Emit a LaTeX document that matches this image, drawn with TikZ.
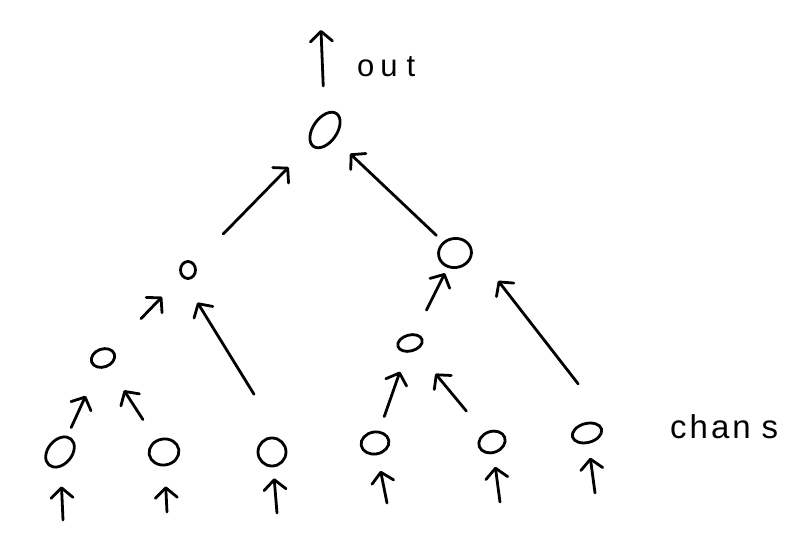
\documentclass[tikz,border=0pt]{standalone}
\usepackage{fontspec}
\setmainfont{Liberation Sans}
\usetikzlibrary{shapes.geometric,arrows.meta}
\begin{document}
\begin{tikzpicture}[x=1pt,y=1pt,
  nd/.style={ellipse, draw, line width=2.8pt, inner sep=0pt},
  arr/.style={line width=2.8pt, line cap=round,
    -{Straight Barb[length=10pt,width=22pt,line width=2.8pt,round]}},
  lbl/.style={inner sep=0pt, anchor=base west}]
\useasboundingbox (0,0) rectangle (812,-548);
% nodes
\node[nd, minimum width=24pt, minimum height=40pt, rotate=-35] (root) at (325,-130) {};
\node[nd, minimum width=15pt, minimum height=17pt] (m1) at (188,-270) {};
\node[nd, minimum width=33pt, minimum height=29pt, rotate=10] (m2) at (455,-253) {};
\node[nd, minimum width=24pt, minimum height=18pt, rotate=20] (l1) at (103,-358) {};
\node[nd, minimum width=25pt, minimum height=16pt, rotate=15] (m3) at (410,-343) {};
\node[nd, minimum width=24pt, minimum height=34pt, rotate=-40] (b1) at (60,-452) {};
\node[nd, minimum width=30pt, minimum height=26pt, rotate=10] (b2) at (164,-452) {};
\node[nd, minimum width=28pt, minimum height=28pt] (b3) at (272,-452) {};
\node[nd, minimum width=28pt, minimum height=22pt, rotate=10] (b4) at (375,-443) {};
\node[nd, minimum width=27pt, minimum height=21pt, rotate=20] (b5) at (492,-442) {};
\node[nd, minimum width=30pt, minimum height=19pt, rotate=15] (b6) at (587,-433) {};
% labels
\node[lbl, font=\fontsize{31}{36}\selectfont] (out) at (357,-77) {o\kern6pt u\kern9pt t};
\node[lbl, font=\fontsize{33}{38}\selectfont] (chans) at (670,-438) {c\kern3pt h\kern3pt a\kern3pt n\kern11pt s};
% free ends
\coordinate (outc) at (321,-30);
\coordinate (t1) at (63,-520);
\coordinate (t2) at (167,-512);
\coordinate (t3) at (277,-513);
\coordinate (t4) at (387,-503);
\coordinate (t5) at (500,-502);
\coordinate (t6) at (595,-493);
% connectors
\draw[arr, shorten <=27pt] (root) -- (outc);
\draw[arr, shorten <=41pt, shorten >=31pt] (m1) -- (root);
\draw[arr, shorten <=9pt, shorten >=21pt] (m2) -- (root);
\draw[arr, shorten <=42pt, shorten >=28pt] (l1) -- (m1);
\draw[arr, shorten <=55pt, shorten >=30pt] (b3.north east) -- (m1.south west);
\draw[arr, shorten <=9pt, shorten >=30pt] (b1) -- (l1);
\draw[arr, shorten <=24pt, shorten >=28pt] (b2) -- (l1);
\draw[arr, shorten <=26pt, shorten >=6pt] (m3) -- (m2);
\draw[arr, shorten <=49pt, shorten >=24pt] ([xshift=12pt]b6.north east) -- ([xshift=14pt]m2.south east);
\draw[arr, shorten <=15pt, shorten >=20pt] (b4) -- (m3);
\draw[arr, shorten <=28pt, shorten >=30pt] (b5) -- (m3);
\draw[arr, shorten >=19pt] (t1) -- (b1);
\draw[arr, shorten >=20pt] (t2) -- (b2);
\draw[arr, shorten >=11pt] (t3) -- (b3);
\draw[arr, shorten >=16pt] (t4) -- (b4);
\draw[arr, shorten >=13pt] (t5) -- (b5);
\draw[arr, shorten >=14pt] (t6) -- (b6);
\end{tikzpicture}
\end{document}
